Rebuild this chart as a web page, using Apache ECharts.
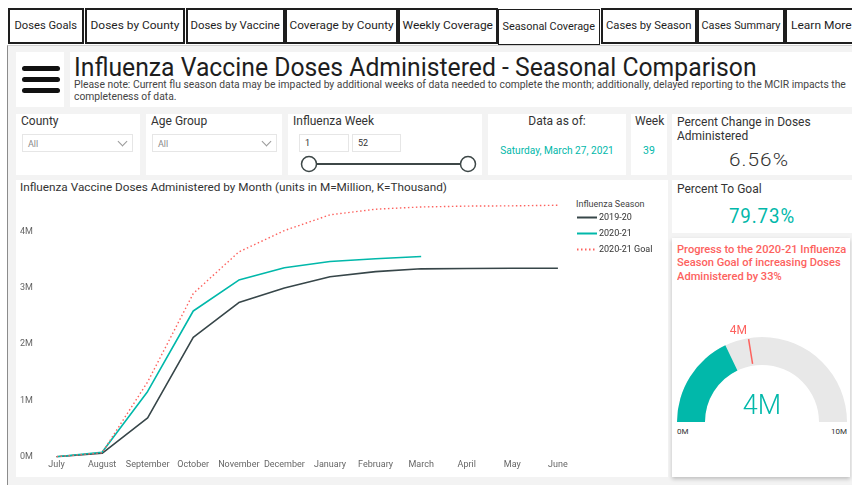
<!DOCTYPE html>
<html><head><meta charset="utf-8">
<script src="https://cdn.jsdelivr.net/npm/echarts@6/dist/echarts.min.js"></script>
<style>
body{margin:0;width:852px;height:485px;overflow:hidden;background:#fff;font-family:Roboto,"Noto Sans",sans-serif;position:relative;color:#252423}
.abs{position:absolute}
.panel{position:absolute;background:#fff}
.btn{position:absolute;top:8px;height:32px;border:2px solid #1e1e1e;background:#fff;font-size:11px;line-height:32px;text-align:center;white-space:nowrap;overflow:hidden;color:#1e1e1e}
.btn span{display:inline-block}
.fit{position:absolute;white-space:nowrap;display:inline-block}
.lbl{position:absolute;white-space:nowrap;font-size:12px;line-height:14px;color:#333}
.dd{position:absolute;height:18px;border:1px solid #e6e6e6;background:#fff;font-size:9px;line-height:18px;color:#8a8a8a;box-sizing:border-box;padding-left:5px}
.chev{position:absolute;right:6px;top:3px;width:6px;height:6px;border-right:1px solid #9a9a9a;border-bottom:1px solid #9a9a9a;transform:rotate(45deg)}
.inp{position:absolute;height:18px;border:1px solid #e6e6e6;background:#fff;font-size:9px;line-height:17px;color:#333;box-sizing:border-box;padding-left:5px}
#chart{position:absolute;left:0;top:0;width:852px;height:485px;z-index:5}
</style></head>
<body>
<div class="abs" style="left:7px;top:45px;width:845px;height:440px;background:#f3f3f3;border-left:1.5px solid #8c8c8c;border-top:1px solid #cfcfcf"></div>

<div class="btn" style="left:8px;width:72px"><span data-w="63">Doses Goals</span></div>
<div class="btn" style="left:85px;width:96px"><span data-w="89">Doses by County</span></div>
<div class="btn" style="left:186px;width:95px"><span data-w="89">Doses by Vaccine</span></div>
<div class="btn" style="left:285px;width:109px"><span data-w="104">Coverage by County</span></div>
<div class="btn" style="left:398px;width:96px"><span data-w="90">Weekly Coverage</span></div>
<div class="btn" style="left:498px;width:100px;border-width:1px;top:9px;height:34px;line-height:34px;font-size:10.5px"><span data-w="92">Seasonal Coverage</span></div>
<div class="btn" style="left:601px;width:92px"><span data-w="85">Cases by Season</span></div>
<div class="btn" style="left:697px;width:84px"><span data-w="79">Cases Summary</span></div>
<div class="btn" style="left:785px;text-align:left;padding-left:4px;box-sizing:border-box;width:82px;height:36px"><span data-w="61">Learn More</span></div>

<!-- header panels -->
<div class="panel" style="left:16px;top:52px;width:48px;height:55px"></div>
<div class="abs" style="left:22px;top:66px;width:38px;height:5px;border-radius:3px;background:#111"></div>
<div class="abs" style="left:22px;top:77px;width:38px;height:5px;border-radius:3px;background:#111"></div>
<div class="abs" style="left:22px;top:88px;width:38px;height:5px;border-radius:3px;background:#111"></div>
<div class="panel" style="left:70px;top:52px;width:782px;height:55px"></div>
<div class="fit" data-w="683" style="left:74px;top:54px;font-size:26px;line-height:26px;color:#1e1e1e">Influenza Vaccine Doses Administered - Seasonal Comparison</div>
<div class="fit" data-w="772" style="left:74px;top:79px;font-size:10.5px;line-height:12px;color:#444">Please note: Current flu season data may be impacted by additional weeks of data needed to complete the month; additionally, delayed reporting to the MCIR impacts the<br>completeness of data.</div>

<!-- filters -->
<div class="panel" style="left:16px;top:114px;width:124px;height:61px"></div>
<div class="lbl" style="left:21px;top:114px">County</div>
<div class="dd" style="left:22px;top:134px;width:111px">All<div class="chev"></div></div>
<div class="panel" style="left:146px;top:114px;width:136px;height:61px"></div>
<div class="lbl" style="left:151px;top:114px">Age Group</div>
<div class="dd" style="left:152px;top:134px;width:125px">All<div class="chev"></div></div>
<div class="panel" style="left:288px;top:114px;width:194px;height:61px"></div>
<div class="lbl" style="left:293px;top:114px">Influenza Week</div>
<div class="inp" style="left:299px;top:134px;width:50px">1</div>
<div class="inp" style="left:352px;top:134px;width:49px">52</div>
<svg class="abs" style="left:288px;top:150px" width="194" height="28">
  <line x1="21" y1="14" x2="180" y2="14" stroke="#3d4747" stroke-width="2"/>
  <circle cx="21" cy="14" r="7.5" fill="#fff" stroke="#3d4747" stroke-width="1.5"/>
  <circle cx="180" cy="14" r="7.5" fill="#fff" stroke="#3d4747" stroke-width="1.5"/>
</svg>
<div class="panel" style="left:488px;top:114px;width:138px;height:61px"></div>
<div class="lbl" style="left:557px;top:114px;transform:translateX(-50%)">Data as of:</div>
<div class="fit" data-w="114" data-c="1" style="left:557px;top:144px;font-size:10.5px;line-height:14px;color:#01B8AA">Saturday, March 27, 2021</div>
<div class="panel" style="left:631px;top:114px;width:36px;height:61px"></div>
<div class="lbl" style="left:635px;top:114px">Week</div>
<div class="fit" data-c="1" style="left:649px;top:144px;font-size:10.5px;line-height:14px;color:#01B8AA">39</div>

<!-- right column -->
<div class="panel" style="left:672px;top:114px;width:180px;height:61px"></div>
<div class="lbl" style="left:677px;top:115px;font-size:12px;line-height:14px;color:#333">Percent Change in Doses<br>Administered</div>
<div class="fit" data-w="60" data-c="1" style="left:759px;top:149px;font-size:19px;line-height:22px;color:#333;font-weight:300;letter-spacing:1px">6.56%</div>
<div class="panel" style="left:672px;top:180px;width:180px;height:53px"></div>
<div class="lbl" style="left:677px;top:182px;font-size:12px">Percent To Goal</div>
<div class="fit" data-w="66" data-c="1" style="left:762px;top:204px;font-size:21px;line-height:24px;color:#01B8AA;letter-spacing:1px">79.73%</div>
<div class="panel" style="left:672px;top:238px;width:178px;height:239px;box-shadow:0 2px 4px rgba(0,0,0,0.22)"></div>
<div class="fit" data-w="169" style="left:677px;top:243px;font-size:11px;line-height:13.3px;color:#FD625E;font-weight:500">Progress to the 2020-21 Influenza<br>Season Goal of increasing Doses<br>Administered by 33%</div>
<div id="gmin" class="lbl" style="left:677px;top:427px;font-size:8px;line-height:10px;color:#333"></div>
<div id="gmax" class="lbl" style="left:847px;top:427px;font-size:8px;line-height:10px;color:#333;transform:translateX(-100%)"></div>

<!-- main chart panel -->
<div class="panel" style="left:16px;top:180px;width:652px;height:297px"></div>
<div class="fit" data-w="427" style="left:20px;top:180px;font-size:11.5px;line-height:14px;color:#333">Influenza Vaccine Doses Administered by Month (units in M=Million, K=Thousand)</div>
<div class="lbl" style="left:576px;top:198px;font-size:9px;line-height:12px;color:#444">Influenza Season</div>

<div id="chart"></div>
<script>
// ---- data ----
const months = ['July','August','September','October','November','December','January','February','March','April','May','June'];
const seasonNames = ['2019-20','2020-21','2020-21 Goal'];
const doses2019 = [0, 0.06, 0.69, 2.12, 2.74, 3.0, 3.2, 3.29, 3.34, 3.345, 3.35, 3.35];
const doses2020 = [0, 0.08, 1.16, 2.59, 3.14, 3.36, 3.47, 3.52, 3.56];
const goal2020  = [0, 0.07, 1.33, 2.9, 3.64, 4.02, 4.3, 4.4, 4.44, 4.455, 4.46, 4.47];
const yTickLabels = ['0M','1M','2M','3M','4M'];
const gaugeValue = [3.58];
const gaugeGoal = [4.49];
const gaugeRange = [0, 10];

// text fitting
document.querySelectorAll('[data-w]').forEach(el => {
  const w = el.offsetWidth, t = +el.dataset.w;
  const s = t / w;
  if (el.dataset.c) { el.style.transformOrigin = 'center'; el.style.transform = 'translateX(-50%) scaleX(' + s + ')'; }
  else if (el.parentNode.classList.contains('btn')) { el.style.transformOrigin = el.parentNode.style.textAlign === 'left' ? 'left' : 'center'; el.style.transform = 'scaleX(' + s + ')'; }
  else { el.style.transformOrigin = 'left'; el.style.transform = 'scaleX(' + s + ')'; }
});
document.querySelectorAll('.fit[data-c]:not([data-w])').forEach(el => { el.style.transform = 'translateX(-50%)'; });
document.getElementById('gmin').textContent = gaugeRange[0] + 'M';
document.getElementById('gmax').textContent = gaugeRange[1] + 'M';

const teal = '#01B8AA', dark = '#374649', red = '#FD625E';
const gCenter = [762, 422], gR = 85, gW = 28;
const goalAngle = Math.PI * (1 - gaugeGoal[0] / gaugeRange[1]);
const lblR = 92;

const chart = echarts.init(document.getElementById('chart'), null, {renderer: 'canvas'});
chart.setOption({
  animation: false,
  backgroundColor: 'transparent',
  textStyle: {fontFamily: 'Roboto, "Noto Sans", sans-serif'},
  grid: {left: 33.7, right: 271.3, top: 175.45, bottom: 28.3, containLabel: false},
  legend: {
    data: seasonNames, orient: 'vertical', left: 576, top: 213, padding: 0,
    itemWidth: 20, itemHeight: 8, itemGap: 7,
    itemStyle: {opacity: 0},
    textStyle: {fontSize: 9, color: '#333', padding: [0, 0, 0, -3]}
  },
  xAxis: {
    type: 'category', data: months, boundaryGap: true,
    axisLine: {show: false}, axisTick: {show: false},
    axisLabel: {fontSize: 9, color: '#666', margin: 4, interval: 0}
  },
  yAxis: {
    type: 'value', min: 0, max: 5, interval: 1,
    axisLine: {show: false}, axisTick: {show: false}, splitLine: {show: false},
    axisLabel: {fontSize: 9, color: '#666', align: 'left', margin: 13.7,
      formatter: v => yTickLabels[v] || ''}
  },
  series: [
    {name: seasonNames[0], type: 'line', data: doses2019, symbol: 'none', showSymbol: false, color: dark,
     lineStyle: {width: 1.6, color: dark}, z: 3},
    {name: seasonNames[1], type: 'line', data: doses2020, symbol: 'none', showSymbol: false, color: teal,
     lineStyle: {width: 1.6, color: teal}, z: 4},
    {name: seasonNames[2], type: 'line', data: goal2020, symbol: 'none', showSymbol: false, color: red,
     lineStyle: {width: 1.4, color: red, type: [1.5, 2.5]}, z: 5},
    {
      type: 'gauge', center: gCenter, radius: gR, startAngle: 180, endAngle: 0,
      min: gaugeRange[0], max: gaugeRange[1],
      axisLine: {lineStyle: {width: gW, color: [[1, '#E8E8E8']]}},
      progress: {show: true, width: gW, itemStyle: {color: teal}},
      pointer: {show: false}, anchor: {show: false},
      axisTick: {show: false}, splitLine: {show: false}, axisLabel: {show: false},
      title: {show: false},
      detail: {offsetCenter: [0, -15], fontSize: 27, fontWeight: 300, color: teal,
        formatter: v => Math.round(v) + 'M'},
      data: [{value: gaugeValue[0]}]
    },
    {
      type: 'gauge', center: gCenter, radius: gR, startAngle: 180, endAngle: 0,
      min: gaugeRange[0], max: gaugeRange[1],
      axisLine: {show: false}, progress: {show: false},
      pointer: {show: true, icon: 'rect', width: 1.5, length: 25, offsetCenter: [0, -59], itemStyle: {color: red}},
      anchor: {show: false},
      axisTick: {show: false}, splitLine: {show: false}, axisLabel: {show: false},
      title: {show: false},
      detail: {offsetCenter: [lblR * Math.cos(goalAngle) - 9, -lblR * Math.sin(goalAngle)], fontSize: 12, fontWeight: 'normal', color: red,
        formatter: v => Math.round(v) + 'M'},
      data: [{value: gaugeGoal[0]}]
    }
  ]
});
</script>
</body></html>
